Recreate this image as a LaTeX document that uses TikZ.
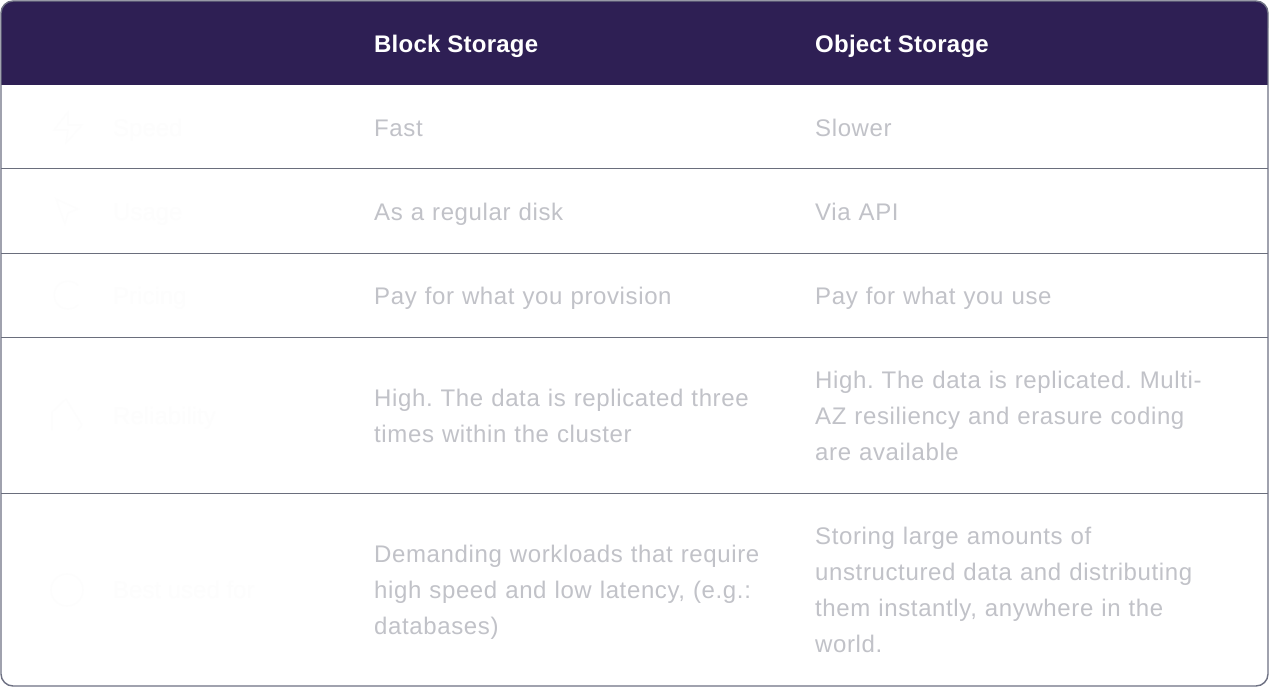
\documentclass[tikz,border=0pt]{standalone}
\usepackage{fontspec}
\setmainfont{Liberation Sans}
\newfontfamily\bodyf[LetterSpace=2.6]{Liberation Sans}
\newfontfamily\headf[LetterSpace=1,BoldFont={Liberation Sans Bold}]{Liberation Sans}
\definecolor{hdr}{HTML}{2E1F54}
\definecolor{edge}{HTML}{6E7183}
\definecolor{rowline}{HTML}{6A6E7C}
\definecolor{body}{HTML}{C1C2C8}
\definecolor{faint}{HTML}{FDFDFD}
\tikzset{x=1pt,y=-1pt,
 cell/.style={anchor=west,inner sep=0pt,text=body,font=\bodyf\fontsize{24}{36}\selectfont\frenchspacing,align=left,text width=440pt},
 head/.style={anchor=west,inner sep=0pt,text=white,font=\headf\fontsize{24}{36}\selectfont\bfseries},
 lab/.style={anchor=west,inner sep=0pt,text=faint,font=\fontsize{24}{36}\selectfont},
 ico/.style={draw=faint,line width=1.2pt,fill=none}}
\begin{document}
\begin{tikzpicture}
\useasboundingbox (0,0) rectangle (1269,687);
\fill[white] (0,0) rectangle (1269,687);
\fill[hdr,rounded corners=12pt] (1,1) rectangle (1268,40);
\fill[hdr] (1,20) rectangle (1268,85);
\coordinate (la) at (1,169); \coordinate (ra) at (1268,169);
\coordinate (lb) at (1,253); \coordinate (rb) at (1268,253);
\coordinate (lc) at (1,337); \coordinate (rc) at (1268,337);
\coordinate (ld) at (1,493); \coordinate (rd) at (1268,493);
\foreach \p/\q in {la/ra,lb/rb,lc/rc,ld/rd}{\draw[rowline,line width=1pt] (\p) -- (\q);}
\draw[edge,line width=1.4pt,rounded corners=12pt] (1,1) rectangle (1268,686);
\node[head] (h1) at (374,45) {\strut Block Storage};
\node[head] (h2) at (815,45) {\strut Object Storage};
\node[cell] (a1) at (374,129) {\strut Fast};
\node[cell] (a2) at (815,129) {\strut Slower};
\node[cell] (b1) at (374,213) {\strut As a regular disk};
\node[cell] (b2) at (815,213) {\strut Via API};
\node[cell] (c1) at (374,297) {\strut Pay for what you provision};
\node[cell] (c2) at (815,297) {\strut Pay for what you use};
\node[cell] (d1) at (374,417) {\strut High. The data is replicated three\\\strut times within the cluster};
\node[cell] (d2) at (815,417) {\strut High. The data is replicated. Multi-\\\strut AZ resiliency and erasure coding\\\strut are available};
\node[cell] (e1) at (374,591) {\strut Demanding workloads that require\\\strut high speed and low latency, (e.g.:\\\strut databases)};
\node[cell] (e2) at (815,591) {\strut Storing large amounts of\\\strut unstructured data and distributing\\\strut them instantly, anywhere in the\\\strut world.};
\node[lab] (l1) at (113,129) {\strut Speed};
\node[lab] (l2) at (113,213) {\strut Usage};
\node[lab] (l3) at (113,297) {\strut Pricing};
\node[lab] (l4) at (113,417) {\strut Reliability};
\node[lab] (l5) at (113,591) {\strut Best used for};
\draw[ico] (68,112) -- (54,130) -- (68,130) -- (66,143) -- (82,125) -- (68,125) -- cycle;
\draw[ico] (56,199) -- (78,209) -- (68,213) -- (65,224) -- cycle;
\draw[ico] (78,305) arc (45:315:14);
\draw[ico] (52,430) -- (52,412) -- (66,399) -- (82,425) -- (78,430);
\draw[ico] (67,590) circle (16);
\end{tikzpicture}
\end{document}
